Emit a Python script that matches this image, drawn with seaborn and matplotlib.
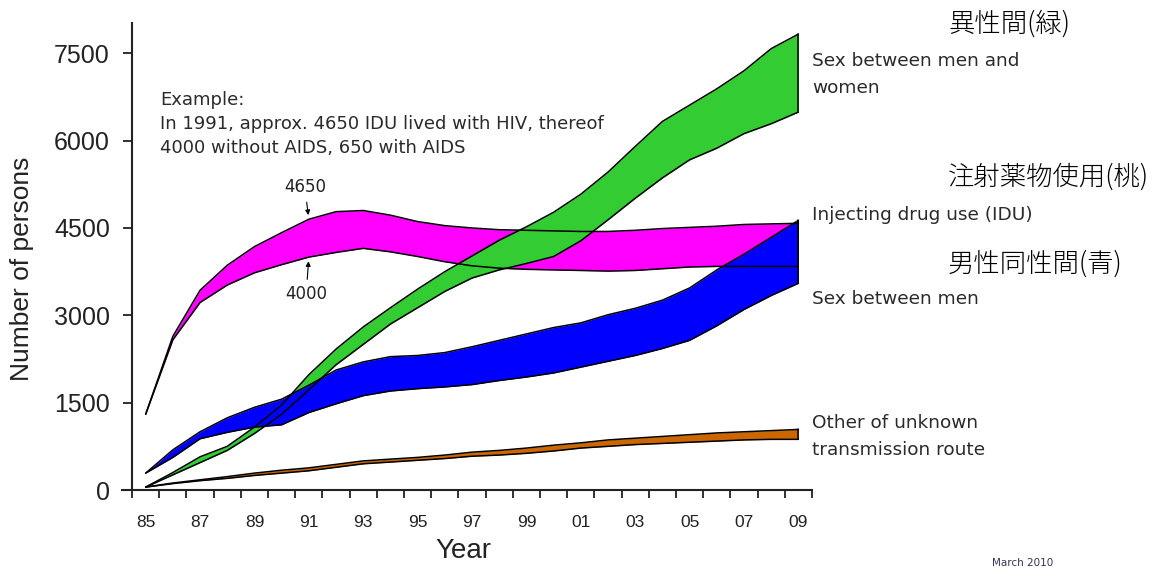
import numpy as np
import seaborn as sns
import matplotlib
matplotlib.use("Agg")
import matplotlib.pyplot as plt

# HIV prevalence bands by transmission route (lower / upper estimate)
years = list(range(1985, 2010))
idu_low = [1300, 2580, 3220, 3520, 3730, 3870, 4000, 4080, 4150, 4090, 4010, 3920, 3850,
           3810, 3790, 3780, 3770, 3760, 3770, 3800, 3830, 3840, 3840, 3840, 3840]
idu_high = [1300, 2640, 3430, 3860, 4180, 4420, 4650, 4780, 4800, 4720, 4610, 4540, 4500,
            4470, 4460, 4450, 4440, 4440, 4460, 4490, 4510, 4530, 4560, 4570, 4580]
msm_low = [290, 560, 880, 990, 1080, 1120, 1330, 1480, 1620, 1700, 1740, 1770, 1810,
           1880, 1940, 2010, 2110, 2210, 2310, 2430, 2570, 2820, 3100, 3340, 3550]
msm_high = [290, 690, 1000, 1240, 1420, 1560, 1800, 2060, 2200, 2290, 2310, 2360, 2460,
            2570, 2680, 2790, 2870, 3010, 3120, 3260, 3470, 3780, 4050, 4340, 4630]
het_low = [50, 260, 470, 680, 970, 1300, 1720, 2150, 2500, 2850, 3130, 3410, 3640,
           3780, 3890, 4010, 4280, 4640, 5010, 5360, 5670, 5870, 6120, 6290, 6490]
het_high = [50, 300, 570, 750, 1080, 1460, 1980, 2420, 2800, 3130, 3450, 3750, 4020,
            4290, 4520, 4770, 5080, 5460, 5900, 6330, 6610, 6890, 7200, 7580, 7830]
oth_low = [50, 110, 160, 200, 250, 290, 330, 390, 450, 480, 510, 540, 580,
           600, 630, 670, 720, 750, 780, 800, 820, 840, 860, 870, 870]
oth_high = [50, 120, 175, 230, 290, 340, 380, 440, 500, 530, 560, 600, 650,
            680, 720, 770, 810, 860, 890, 920, 950, 980, 1000, 1020, 1040]

y_ticks = [0, 1500, 3000, 4500, 6000, 7500]
x_labels = ["85", "87", "89", "91", "93", "95", "97", "99", "01", "03", "05", "07", "09"]

sns.set_theme(style="ticks")
plt.rcParams['font.family'] = ['Liberation Sans', 'DejaVu Sans']

W, H = 1159, 567
fig = plt.figure(figsize=(W / 100, H / 100), dpi=100)
ax = fig.add_axes([122 / W, 1 - 490 / H, (812 - 122) / W, (490 - 23) / H])

# fills first (pink, green, blue), then all outlines on top
ax.fill_between(years, idu_low, idu_high, color="#ff00ff", lw=0, zorder=1)
ax.fill_between(years, het_low, het_high, color="#33cc33", lw=0, zorder=2)
ax.fill_between(years, msm_low, msm_high, color="#0000ff", lw=0, zorder=3)
ax.fill_between(years, oth_low, oth_high, color="#cc6600", lw=0, zorder=3)

for lo, hi in [(idu_low, idu_high), (het_low, het_high), (msm_low, msm_high), (oth_low, oth_high)]:
    sns.lineplot(x=years, y=lo, ax=ax, color="black", linewidth=1.1, zorder=5)
    sns.lineplot(x=years, y=hi, ax=ax, color="black", linewidth=1.1, zorder=5)
    ax.plot([years[-1], years[-1]], [lo[-1], hi[-1]], color="black", lw=1.1, zorder=5)

ax.set_xlim(1984.13, 2009.5)
ax.set_ylim(0, 8020)
ax.spines['left'].set_position(('data', 1984.5))
ax.spines['top'].set_visible(False)
ax.spines['right'].set_visible(False)
for s in ['left', 'bottom']:
    ax.spines[s].set_linewidth(1.5)
    ax.spines[s].set_color("#222222")

ax.set_yticks(y_ticks)
ax.set_yticklabels([str(v) for v in y_ticks])
ax.tick_params(axis='y', direction='out', length=6.5, width=1.3, pad=9.5,
               labelsize=18, colors="#222222")

ax.set_xticks(years[::2])
ax.set_xticklabels(x_labels)
ax.set_xticks(np.arange(1984.5, 2010, 1), minor=True)
ax.tick_params(axis='x', which='major', length=0, pad=18, labelsize=12.5, colors="#222222")
ax.tick_params(axis='x', which='minor', direction='out', length=6, width=1.3, colors="#222222")
ax.set_xlabel("")
ax.set_ylabel("")

fig.text(463 / W, 1 - 551 / H, "Year", fontsize=20, ha='center', va='center', color="#222222")
fig.text(22 / W, 1 - 269 / H, "Number of persons", fontsize=19, rotation=90,
         ha='center', va='center', color="#222222")

# example annotation
note = dict(fontsize=13, family=['DejaVu Sans'], color="#2a2a2a", ha='left', va='center')
fig.text(160 / W, 1 - 100 / H, "Example:", **note)
fig.text(160 / W, 1 - 124 / H, "In 1991, approx. 4650 IDU lived with HIV, thereof", **note)
fig.text(160 / W, 1 - 148 / H, "4000 without AIDS, 650 with AIDS", **note)

arrow = dict(arrowstyle='-|>', color='black', lw=0.8, mutation_scale=7, shrinkA=2, shrinkB=3)
ax.annotate("4650", xy=(1991, 4650), xytext=(1990.85, 5200), ha='center', va='center',
            fontsize=12, family=['DejaVu Sans'], color="#222222", arrowprops=arrow)
ax.annotate("4000", xy=(1991, 4000), xytext=(1990.9, 3360), ha='center', va='center',
            fontsize=12, family=['DejaVu Sans'], color="#222222", arrowprops=arrow)

# right-hand route labels
lab = dict(fontsize=13.3, family=['DejaVu Sans'], color="#2a2a2a", ha='left', va='center')
fig.text(812 / W, 1 - 61 / H, "Sex between men and", **lab)
fig.text(812 / W, 1 - 88 / H, "women", **lab)
fig.text(812 / W, 1 - 215 / H, "Injecting drug use (IDU)", **lab)
fig.text(812 / W, 1 - 299 / H, "Sex between men", **lab)
fig.text(812 / W, 1 - 423 / H, "Other of unknown", **lab)
fig.text(812 / W, 1 - 450 / H, "transmission route", **lab)

jp = dict(fontsize=19, family=['Noto Sans CJK JP', 'DejaVu Sans'], fontweight='light',
          color="black", ha='left', va='center')
fig.text(948 / W, 1 - 24 / H, "異性間(緑)", **jp)
fig.text(948 / W, 1 - 177 / H, "注射薬物使用(桃)", **jp)
fig.text(948 / W, 1 - 264 / H, "男性同性間(青)", **jp)

fig.text(1023 / W, 1 - 558 / H, "March 2010", fontsize=7.5, ha='center', va='top',
         family=['DejaVu Sans'], color="#333355")

fig.savefig("out.png", dpi=100, facecolor="white")
